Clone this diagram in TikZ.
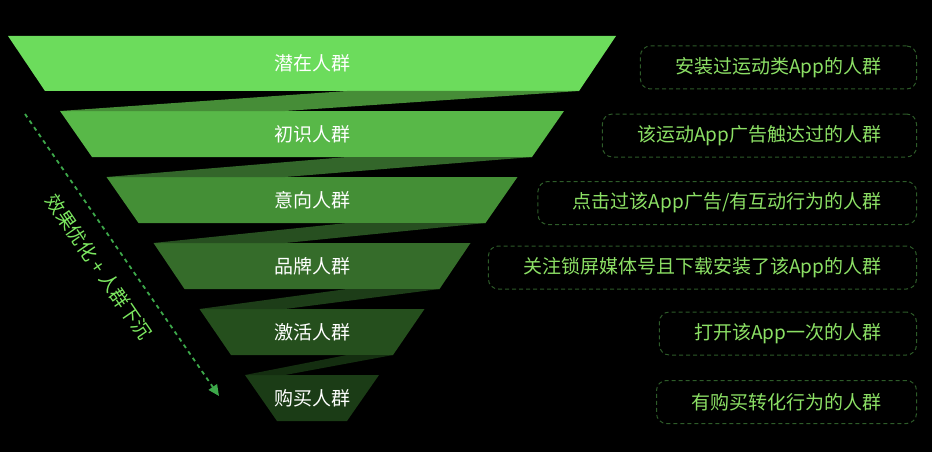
\documentclass[tikz,border=0pt]{standalone}
\usepackage{fontspec}
\setmainfont{Noto Sans CJK SC}
\usetikzlibrary{arrows.meta}
\definecolor{tierA}{HTML}{6CDC5C}
\definecolor{tierB}{HTML}{58B848}
\definecolor{tierC}{HTML}{448F36}
\definecolor{tierD}{HTML}{356C2A}
\definecolor{tierE}{HTML}{254F1D}
\definecolor{tierF}{HTML}{1B3C16}
\definecolor{foldA}{HTML}{468D37}
\definecolor{foldB}{HTML}{33662A}
\definecolor{foldC}{HTML}{274F20}
\definecolor{foldD}{HTML}{1D3D18}
\definecolor{foldE}{HTML}{142E10}
\definecolor{boxline}{HTML}{2E5C29}
\definecolor{boxtext}{HTML}{8CE065}
\definecolor{flowgreen}{HTML}{3DA84A}
\definecolor{flowtext}{HTML}{7CE860}
\tikzset{
  tierlabel/.style={text=white, font=\fontsize{19}{21}\selectfont},
  descbox/.style={draw=boxline, line width=1pt, dash pattern=on 4pt off 3pt,
    rounded corners=10pt, anchor=east, inner xsep=35pt, minimum height=43pt,
    text=boxtext, font=\fontsize{19}{21}\selectfont},
  flowline/.style={draw=flowgreen, line width=1.8pt, dash pattern=on 4pt off 4pt,
    -{Triangle[length=11pt,width=10pt,fill=flowgreen]}}
}
\begin{document}
\begin{tikzpicture}[x=1pt,y=-1pt]
\fill[black] (0,0) rectangle (932,452);
\useasboundingbox (0,0) rectangle (932,452);
\foreach \ty/\by/\tw/\bw/\col/\nm/\txt in {36/91/304/267/tierA/potential/潜在人群,
  111/157/252/220/tierB/aware/初识人群, 177/223/205.5/173.5/tierC/intent/意向人群,
  243/289/158.5/127.5/tierD/brand/品牌人群, 309/355/112.5/81/tierE/active/激活人群,
  375/421/67/35/tierF/buyer/购买人群}
{
	\fill[\col] (312-\tw,\ty) -- (312+\tw,\ty) -- (312+\bw,\by) -- (312-\bw,\by) -- cycle;
	\node[tierlabel] (\nm) at (312,{(\ty+\by)/2}) {\txt};
}
\foreach \by/\ny/\bw/\nw/\col in {91/111/267/252/foldA, 157/177/220/205.5/foldB,
  223/243/173.5/158.5/foldC, 289/309/127.5/112.5/foldD, 355/375/81/67/foldE}
{
	\fill[\col] (312-\nw,\ny) -- (347,\by) -- (312+\bw,\by) -- (285,\ny) -- cycle;
}
\node[descbox] (potdesc) at (917,67.5) {安装过运动类App的人群};
\node[descbox] (awaredesc) at (917,135.5) {该运动App广告触达过的人群};
\node[descbox] (intentdesc) at (917,203) {点击过该App广告/有互动行为的人群};
\node[descbox] (branddesc) at (917,267.5) {关注锁屏媒体号且下载安装了该App的人群};
\node[descbox] (activedesc) at (917,333.5) {打开该App一次的人群};
\node[descbox] (buyerdesc) at (917,402) {有购买转化行为的人群};
\coordinate (flowstart) at (25,114);
\coordinate (flowend) at (219,396);
\draw[flowline] (flowstart) -- (flowend)
  node[pos=0.49, sloped, below=26pt, anchor=center, text=flowtext,
    font=\fontsize{19}{21}\selectfont] (flowlabel) {效果优化 + 人群下沉};
\end{tikzpicture}
\end{document}
